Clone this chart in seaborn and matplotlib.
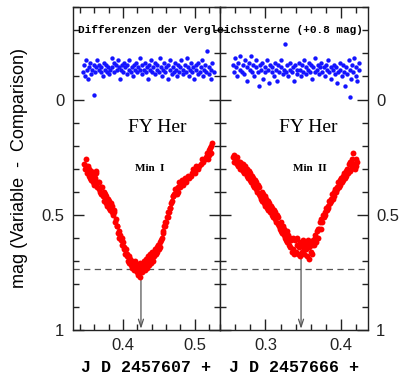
import matplotlib
matplotlib.use("Agg")
import matplotlib.pyplot as plt
import seaborn as sns
import pandas as pd
from matplotlib.ticker import MultipleLocator, FuncFormatter

# ---------------- data ----------------
# Min I (JD 2457607 + ...)
min1_jd = [
    0.346, 0.347, 0.348, 0.349, 0.350, 0.351, 0.352, 0.353, 0.354, 0.355,
    0.356, 0.357, 0.358, 0.359, 0.360, 0.361, 0.362, 0.363, 0.364, 0.365,
    0.366, 0.367, 0.368, 0.369, 0.370, 0.371, 0.372, 0.373, 0.374, 0.375,
    0.376, 0.377, 0.378, 0.379, 0.380, 0.381, 0.382, 0.383, 0.384, 0.385,
    0.386, 0.387, 0.388, 0.389, 0.390, 0.391, 0.392, 0.393, 0.394, 0.395,
    0.396, 0.397, 0.398, 0.399, 0.400, 0.401, 0.402, 0.403, 0.404, 0.405,
    0.406, 0.407, 0.408, 0.409, 0.410, 0.411, 0.412, 0.413, 0.414, 0.415,
    0.416, 0.417, 0.418, 0.419, 0.420, 0.421, 0.422, 0.423, 0.424, 0.425,
    0.426, 0.427, 0.428, 0.429, 0.430, 0.431, 0.432, 0.433, 0.434, 0.435,
    0.436, 0.437, 0.438, 0.439, 0.440, 0.441, 0.442, 0.443, 0.444, 0.445,
    0.446, 0.447, 0.448, 0.449, 0.450, 0.451, 0.452, 0.453, 0.454, 0.455,
    0.456, 0.457, 0.458, 0.459, 0.460, 0.461, 0.462, 0.463, 0.464, 0.465,
    0.466, 0.467, 0.468, 0.469, 0.470, 0.471, 0.472, 0.473, 0.474, 0.475,
    0.476, 0.477, 0.478, 0.480, 0.482, 0.484, 0.486, 0.488, 0.490, 0.492,
    0.494, 0.496, 0.498, 0.500, 0.502, 0.504, 0.506, 0.508, 0.510, 0.512,
    0.514, 0.516, 0.517, 0.518, 0.519, 0.520, 0.521, 0.522, 0.523, 0.524,
]
min1_mag = [
    0.28, 0.30, 0.26, 0.29, 0.32, 0.29, 0.33, 0.30, 0.34, 0.31,
    0.35, 0.32, 0.36, 0.33, 0.37, 0.34, 0.31, 0.32, 0.38, 0.36,
    0.39, 0.36, 0.40, 0.38, 0.41, 0.38, 0.42, 0.40, 0.44, 0.41,
    0.45, 0.42, 0.46, 0.43, 0.47, 0.44, 0.48, 0.45, 0.49, 0.46,
    0.50, 0.48, 0.49, 0.53, 0.52, 0.55, 0.55, 0.58, 0.57, 0.60,
    0.59, 0.61, 0.60, 0.63, 0.62, 0.65, 0.64, 0.67, 0.65, 0.68,
    0.67, 0.70, 0.68, 0.71, 0.69, 0.72, 0.70, 0.73, 0.71, 0.74,
    0.72, 0.70, 0.73, 0.75, 0.72, 0.76, 0.73, 0.71, 0.77, 0.74,
    0.72, 0.75, 0.73, 0.70, 0.74, 0.72, 0.69, 0.73, 0.71, 0.68,
    0.72, 0.70, 0.67, 0.71, 0.69, 0.66, 0.70, 0.68, 0.65, 0.66,
    0.67, 0.64, 0.66, 0.63, 0.65, 0.62, 0.64, 0.61, 0.60, 0.58,
    0.57, 0.55, 0.55, 0.53, 0.53, 0.51, 0.51, 0.49, 0.49, 0.47,
    0.47, 0.45, 0.44, 0.42, 0.42, 0.41, 0.41, 0.39, 0.39, 0.41,
    0.38, 0.40, 0.36, 0.38, 0.35, 0.37, 0.34, 0.36, 0.33, 0.34,
    0.33, 0.32, 0.30, 0.32, 0.29, 0.30, 0.29, 0.28, 0.26, 0.27,
    0.26, 0.25, 0.23, 0.26, 0.22, 0.24, 0.21, 0.23, 0.20, 0.19,
]

# Min II (JD 2457666 + ...)
min2_jd = [
    0.257, 0.258, 0.259, 0.260, 0.261, 0.262, 0.263, 0.264, 0.265, 0.266,
    0.267, 0.268, 0.269, 0.270, 0.271, 0.272, 0.273, 0.274, 0.275, 0.276,
    0.277, 0.278, 0.279, 0.280, 0.281, 0.282, 0.283, 0.284, 0.285, 0.286,
    0.287, 0.288, 0.289, 0.290, 0.291, 0.292, 0.293, 0.294, 0.295, 0.296,
    0.297, 0.298, 0.299, 0.300, 0.301, 0.302, 0.303, 0.304, 0.305, 0.306,
    0.307, 0.308, 0.309, 0.310, 0.311, 0.312, 0.313, 0.314, 0.315, 0.316,
    0.317, 0.318, 0.319, 0.320, 0.321, 0.322, 0.323, 0.324, 0.325, 0.326,
    0.327, 0.328, 0.329, 0.330, 0.331, 0.332, 0.333, 0.334, 0.335, 0.336,
    0.337, 0.338, 0.339, 0.340, 0.341, 0.342, 0.343, 0.344, 0.345, 0.346,
    0.347, 0.348, 0.349, 0.350, 0.351, 0.352, 0.353, 0.354, 0.355, 0.356,
    0.357, 0.358, 0.359, 0.360, 0.361, 0.362, 0.363, 0.364, 0.365, 0.366,
    0.367, 0.368, 0.369, 0.370, 0.371, 0.372, 0.373, 0.374, 0.375, 0.376,
    0.377, 0.378, 0.379, 0.380, 0.381, 0.382, 0.383, 0.384, 0.385, 0.386,
    0.387, 0.388, 0.389, 0.390, 0.391, 0.392, 0.393, 0.394, 0.395, 0.396,
    0.397, 0.398, 0.399, 0.400, 0.401, 0.402, 0.403, 0.404, 0.405, 0.406,
    0.407, 0.408, 0.409, 0.410, 0.411, 0.412, 0.413, 0.414, 0.415, 0.416,
    0.417, 0.418, 0.419, 0.420, 0.421,
]
min2_mag = [
    0.25, 0.27, 0.24, 0.27, 0.26, 0.28, 0.25, 0.29, 0.27, 0.30,
    0.27, 0.30, 0.28, 0.31, 0.28, 0.32, 0.29, 0.32, 0.33, 0.30,
    0.34, 0.31, 0.35, 0.32, 0.36, 0.33, 0.37, 0.34, 0.38, 0.35,
    0.39, 0.36, 0.40, 0.37, 0.41, 0.38, 0.42, 0.43, 0.40, 0.44,
    0.41, 0.45, 0.42, 0.46, 0.43, 0.47, 0.44, 0.48, 0.45, 0.49,
    0.46, 0.50, 0.47, 0.51, 0.48, 0.52, 0.49, 0.53, 0.50, 0.54,
    0.51, 0.55, 0.56, 0.53, 0.57, 0.58, 0.55, 0.59, 0.56, 0.60,
    0.61, 0.57, 0.62, 0.59, 0.63, 0.60, 0.64, 0.61, 0.66, 0.60,
    0.65, 0.67, 0.61, 0.66, 0.63, 0.60, 0.67, 0.64, 0.62, 0.68,
    0.63, 0.66, 0.61, 0.64, 0.67, 0.62, 0.65, 0.63, 0.68, 0.61,
    0.69, 0.64, 0.62, 0.66, 0.63, 0.67, 0.61, 0.63, 0.60, 0.59,
    0.62, 0.57, 0.60, 0.56, 0.56, 0.53, 0.56, 0.52, 0.53, 0.50,
    0.51, 0.49, 0.50, 0.47, 0.48, 0.46, 0.47, 0.44, 0.45, 0.43,
    0.44, 0.41, 0.43, 0.40, 0.42, 0.39, 0.40, 0.38, 0.39, 0.36,
    0.38, 0.35, 0.37, 0.34, 0.36, 0.33, 0.35, 0.32, 0.34, 0.31,
    0.33, 0.30, 0.32, 0.28, 0.31, 0.27, 0.30, 0.26, 0.29, 0.23,
    0.28, 0.30, 0.26, 0.29, 0.27,
]

# comparison-star differences (+0.8 mag), night 1
comp1_jd = [
    0.345, 0.346, 0.347, 0.349, 0.350, 0.351, 0.353, 0.354, 0.356, 0.357,
    0.359, 0.360, 0.361, 0.363, 0.364, 0.366, 0.367, 0.369, 0.370, 0.372,
    0.373, 0.375, 0.376, 0.378, 0.379, 0.381, 0.382, 0.384, 0.385, 0.387,
    0.388, 0.390, 0.391, 0.393, 0.394, 0.396, 0.397, 0.399, 0.400, 0.402,
    0.403, 0.405, 0.406, 0.408, 0.409, 0.411, 0.412, 0.414, 0.415, 0.417,
    0.418, 0.420, 0.421, 0.423, 0.424, 0.426, 0.427, 0.429, 0.430, 0.432,
    0.433, 0.435, 0.436, 0.438, 0.439, 0.441, 0.442, 0.444, 0.445, 0.447,
    0.448, 0.450, 0.451, 0.453, 0.454, 0.456, 0.457, 0.459, 0.460, 0.462,
    0.463, 0.465, 0.466, 0.468, 0.469, 0.471, 0.472, 0.474, 0.475, 0.477,
    0.478, 0.480, 0.481, 0.483, 0.484, 0.486, 0.487, 0.489, 0.490, 0.492,
    0.493, 0.495, 0.496, 0.498, 0.499, 0.501, 0.502, 0.504, 0.505, 0.507,
    0.508, 0.510, 0.511, 0.513, 0.514, 0.516, 0.517, 0.519, 0.520, 0.522,
    0.523, 0.524, 0.526,
]
comp1_mag = [
    -0.12, -0.15, -0.10, -0.17, -0.13, -0.09, -0.14, -0.16, -0.11, -0.13,
    -0.15, -0.02, -0.12, -0.14, -0.17, -0.13, -0.15, -0.12, -0.14, -0.10,
    -0.16, -0.13, -0.15, -0.12, -0.14, -0.11, -0.13, -0.18, -0.14, -0.16,
    -0.12, -0.15, -0.13, -0.17, -0.14, -0.09, -0.13, -0.15, -0.12, -0.16,
    -0.14, -0.11, -0.15, -0.13, -0.17, -0.12, -0.14, -0.10, -0.15, -0.13,
    -0.16, -0.12, -0.14, -0.18, -0.13, -0.11, -0.15, -0.13, -0.16, -0.12,
    -0.14, -0.09, -0.15, -0.13, -0.17, -0.12, -0.14, -0.16, -0.11, -0.13,
    -0.15, -0.12, -0.18, -0.14, -0.10, -0.13, -0.16, -0.12, -0.14, -0.09,
    -0.15, -0.13, -0.17, -0.11, -0.14, -0.12, -0.16, -0.13, -0.10, -0.15,
    -0.12, -0.14, -0.17, -0.11, -0.13, -0.15, -0.12, -0.18, -0.14, -0.10,
    -0.13, -0.16, -0.12, -0.14, -0.09, -0.15, -0.13, -0.11, -0.16, -0.12,
    -0.14, -0.17, -0.10, -0.13, -0.15, -0.12, -0.21, -0.11, -0.14, -0.09,
    -0.13, -0.16, -0.12,
]

# comparison-star differences (+0.8 mag), night 2
comp2_jd = [
    0.257, 0.258, 0.260, 0.261, 0.263, 0.264, 0.266, 0.267, 0.269, 0.270,
    0.272, 0.273, 0.275, 0.276, 0.278, 0.279, 0.281, 0.282, 0.284, 0.285,
    0.287, 0.288, 0.290, 0.291, 0.293, 0.294, 0.296, 0.297, 0.299, 0.300,
    0.302, 0.303, 0.305, 0.306, 0.308, 0.309, 0.311, 0.312, 0.314, 0.315,
    0.317, 0.318, 0.320, 0.321, 0.323, 0.324, 0.326, 0.327, 0.329, 0.330,
    0.332, 0.333, 0.335, 0.336, 0.338, 0.339, 0.341, 0.342, 0.344, 0.345,
    0.347, 0.348, 0.350, 0.351, 0.353, 0.354, 0.356, 0.357, 0.359, 0.360,
    0.362, 0.363, 0.365, 0.366, 0.368, 0.369, 0.371, 0.372, 0.374, 0.375,
    0.377, 0.378, 0.380, 0.381, 0.383, 0.384, 0.386, 0.387, 0.389, 0.390,
    0.392, 0.393, 0.395, 0.396, 0.398, 0.399, 0.401, 0.402, 0.404, 0.405,
    0.407, 0.408, 0.410, 0.411, 0.412, 0.413, 0.414, 0.416, 0.417, 0.419,
    0.420, 0.421, 0.423, 0.424,
]
comp2_mag = [
    -0.15, -0.12, -0.18, -0.14, -0.10, -0.16, -0.13, -0.19, -0.12, -0.15,
    -0.11, -0.17, -0.14, -0.08, -0.16, -0.13, -0.19, -0.12, -0.15, -0.10,
    -0.14, -0.17, -0.12, -0.06, -0.15, -0.13, -0.16, -0.09, -0.14, -0.12,
    -0.17, -0.13, -0.07, -0.15, -0.12, -0.14, -0.10, -0.16, -0.13, -0.08,
    -0.15, -0.12, -0.14, -0.17, -0.11, -0.13, -0.24, -0.12, -0.15, -0.10,
    -0.13, -0.16, -0.12, -0.14, -0.08, -0.15, -0.13, -0.11, -0.16, -0.13,
    -0.10, -0.15, -0.12, -0.17, -0.14, -0.11, -0.13, -0.16, -0.12, -0.15,
    -0.09, -0.14, -0.12, -0.18, -0.13, -0.15, -0.11, -0.14, -0.16, -0.12,
    -0.14, -0.10, -0.15, -0.13, -0.17, -0.12, -0.14, -0.09, -0.13, -0.15,
    -0.11, -0.14, -0.07, -0.12, -0.16, -0.13, -0.10, -0.15, -0.12, -0.06,
    -0.14, -0.11, -0.17, -0.13, -0.01, -0.09, -0.15, -0.12, -0.18, -0.10,
    -0.14, -0.08, -0.13, -0.16,
]

panel_xlims = [(0.33, 0.535), (0.24, 0.435)]
minimum_jd = [0.425, 0.347]
arrow_top = [0.78, 0.69]
ref_level = 0.735
xlabels = ["J D 2457607 +", "J D 2457666 +"]
min_labels = ["Min  I", "Min  II"]
min_label_x = [0.437, 0.359]
star_label_x = [0.448, 0.357]
title_text = "Differenzen der Vergleichssterne (+0.8 mag)"
ylabel_text = "mag (Variable  -  Comparison)"

# ---------------- figure ----------------
W, H = 403, 378
fig = plt.figure(figsize=(W / 100, H / 100), dpi=100)
ax1 = fig.add_axes([72.7 / W, 1 - 330 / H, 147.3 / W, 322.7 / H])
ax2 = fig.add_axes([220 / W, 1 - 330 / H, 147.7 / W, 322.7 / H], sharey=ax1)

var_frames = [pd.DataFrame({"jd": min1_jd, "mag": min1_mag}),
              pd.DataFrame({"jd": min2_jd, "mag": min2_mag})]
comp_frames = [pd.DataFrame({"jd": comp1_jd, "mag": comp1_mag}),
               pd.DataFrame({"jd": comp2_jd, "mag": comp2_mag})]

fmt = FuncFormatter(lambda v, p: f"{v:g}")
for i, ax in enumerate([ax1, ax2]):
    sns.scatterplot(data=comp_frames[i], x="jd", y="mag", ax=ax, color="#1414ff",
                    s=10, linewidth=0, legend=False, zorder=3)
    sns.scatterplot(data=var_frames[i], x="jd", y="mag", ax=ax, color="#ff0000",
                    s=18, linewidth=0, legend=False, zorder=3)
    ax.axhline(ref_level, color="#555555", lw=0.9, ls=(0, (5, 3.5)), zorder=1)
    ax.annotate("", xy=(minimum_jd[i], 0.995), xytext=(minimum_jd[i], arrow_top[i]),
                arrowprops=dict(arrowstyle="->,head_width=0.18,head_length=0.55",
                                color="#555555", lw=0.9, shrinkA=0, shrinkB=0),
                zorder=2)
    ax.set_xlim(*panel_xlims[i])
    ax.xaxis.set_major_locator(MultipleLocator(0.1))
    ax.xaxis.set_minor_locator(MultipleLocator(0.02))
    ax.yaxis.set_major_locator(MultipleLocator(0.5))
    ax.yaxis.set_minor_locator(MultipleLocator(0.1))
    ax.xaxis.set_major_formatter(fmt)
    ax.yaxis.set_major_formatter(fmt)
    ax.tick_params(which="both", direction="in", top=True, bottom=True,
                   left=True, right=True, colors="#222222", width=1.0)
    ax.tick_params(which="major", length=8, labelsize=12, pad=6)
    ax.tick_params(which="minor", length=4)
    for lab in ax.get_xticklabels() + ax.get_yticklabels():
        lab.set_family("Liberation Sans")
    for sp in ax.spines.values():
        sp.set_linewidth(1.0)
        sp.set_color("#222222")
    ax.set_xlabel("")
    ax.set_ylabel("")
    ax.text(star_label_x[i], 0.12, "FY Her", family="Liberation Serif",
            fontsize=14, ha="center", va="center")
    ax.text(min_label_x[i], 0.30, min_labels[i], family="Liberation Serif",
            fontsize=8, ha="center", va="center", fontweight="bold")
    ax.set_facecolor("white")

ax1.set_ylim(1.0, -0.4)
ax1.tick_params(axis="y", labelleft=True, labelright=False)
ax2.tick_params(axis="y", labelleft=False, labelright=True)
for ax in (ax1, ax2):
    for lab in ax.yaxis.get_ticklabels(which="both") + ax.xaxis.get_ticklabels():
        lab.set_family("Liberation Sans")
    for t in ax.yaxis.get_major_ticks():
        t.label1.set_family("Liberation Sans")
        t.label2.set_family("Liberation Sans")
    for t in ax.xaxis.get_major_ticks():
        t.label1.set_family("Liberation Sans")

fig.text(220 / W, 1 - 30 / H, title_text, family="Liberation Mono",
         fontweight="bold", fontsize=8, ha="center", va="center", zorder=5)
for i, ax in enumerate([ax1, ax2]):
    pos = ax.get_position()
    fig.text((pos.x0 + pos.x1) / 2, 1 - 368 / H, xlabels[i], family="Liberation Mono",
             fontweight="bold", fontsize=12, ha="center", va="center")
fig.text(20 / W, 1 - 168 / H, ylabel_text, rotation=90, family="Liberation Sans",
         fontsize=13, ha="center", va="center")

fig.savefig("out.png", dpi=100, facecolor="white")
